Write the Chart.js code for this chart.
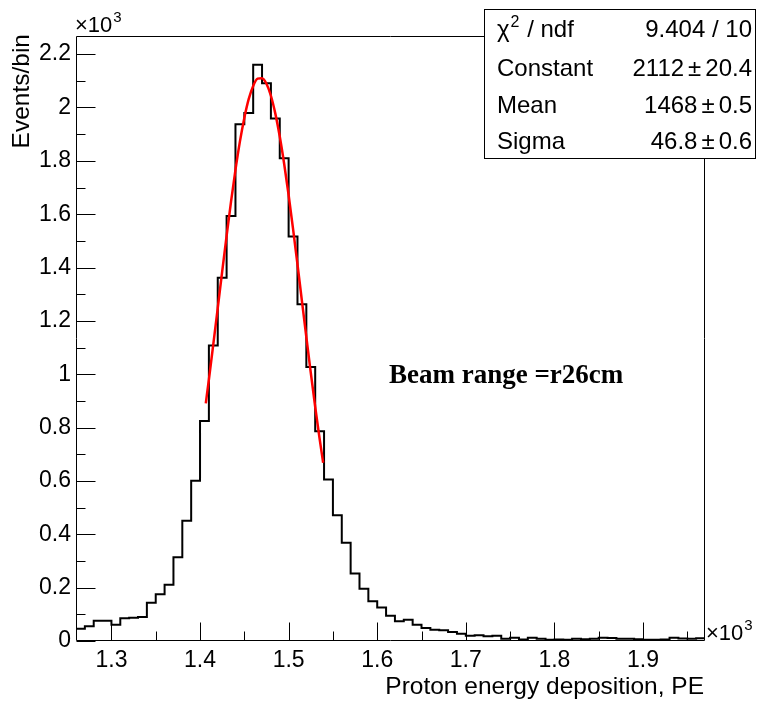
<!DOCTYPE html>
<html><head><meta charset="utf-8">
<script src="https://cdn.jsdelivr.net/npm/chart.js@4/dist/chart.umd.min.js"></script>
<style>html,body{margin:0;padding:0;background:#fff;}canvas{display:block;}</style>
</head><body>
<canvas id="c" width="757" height="703"></canvas>
<script>
// ---- data ----
const binEdges = [1260,1270,1280,1290,1300,1310,1320,1330,1340,1350,1360,1370,1380,1390,1400,1410,1420,1430,1440,1450,
  1460,1470,1480,1490,1500,1510,1520,1530,1540,1550,1560,1570,1580,1590,1600,1610,1620,1630,1640,1650,
  1660,1670,1680,1690,1700,1710,1720,1730,1740,1750,1760,1770,1780,1790,1800,1810,1820,1830,1840,1850,
  1860,1870,1880,1890,1900,1910,1920,1930,1940,1950,1960,1970];
const binCounts = [46,55,76,76,61,85,87,90,143,175,211,314,451,601,825,1108,1362,1593,1937,1979,
  2160,2091,1959,1810,1516,1262,1027,786,605,471,368,253,196,149,126,95,74,80,61,49,
  42,40,34,27,20,22,18,20,8,12,6,12,8,5,6,5,8,7,8,12,
  11,8,8,7,5,5,6,12,9,8,10];
const fitX = [1406.5,1410,1415,1420,1425,1430,1435,1440,1445,1450,1455,1460,1465,1470,1475,1480,1485,1490,1495,1500,1505,1510,1515,1520,1525,1530,1535,1539];
const fitY = [891,980,1113,1248,1385,1519,1647,1766,1872,1961,2032,2081,2108,2110,2089,2044,1977,1891,1788,1672,1545,1412,1275,1139,1006,878,758,668];
const xTicks = [1300,1400,1500,1600,1700,1800,1900];
const xMinorTicks = [1350,1450,1550,1650,1750,1850,1950];
const yTicks = [0,200,400,600,800,1000,1200,1400,1600,1800,2000,2200];
const yMinorTicks = [100,300,500,700,900,1100,1300,1500,1700,1900,2100];
const statLabels = ['Constant','Mean','Sigma'];
const chiValue = '9.404 / 10';
const statValues = [['2112','20.4'],['1468','0.5'],['46.8','0.6']];
const xTitle = 'Proton energy deposition, PE';
const yTitle = 'Events/bin';
const noteText = 'Beam range =r26cm';

const SANS = '"Liberation Sans", Arial, Helvetica, sans-serif';
const SERIF = '"Liberation Serif", "Times New Roman", serif';

const histPoints = binCounts.map((v,i)=>({x:binEdges[i], y:v}));
histPoints.push({x:binEdges[binEdges.length-1], y:binCounts[binCounts.length-1]});
const fitPoints = fitX.map((x,i)=>({x:x, y:fitY[i]}));

const decor = {
  id:'decor',
  afterDraw(chart){
    const ctx = chart.ctx, a = chart.chartArea;
    const xs = chart.scales.x, ys = chart.scales.y;
    ctx.save();
    ctx.strokeStyle = '#000';
    ctx.lineWidth = 1;
    const L = Math.round(a.left)+0.5, R = Math.round(a.right)-0.5, T = Math.round(a.top)+0.5, B = Math.round(a.bottom)-0.5;
    ctx.beginPath();
    ctx.rect(L, T, R-L, B-T);
    ctx.stroke();
    ctx.beginPath();
    xTicks.forEach(v=>{const p=Math.round(xs.getPixelForValue(v))+0.5; ctx.moveTo(p,B); ctx.lineTo(p,B-18);});
    xMinorTicks.forEach(v=>{const p=Math.round(xs.getPixelForValue(v))+0.5; ctx.moveTo(p,B); ctx.lineTo(p,B-9);});
    yTicks.forEach(v=>{const p=Math.round(ys.getPixelForValue(v))+0.5; ctx.moveTo(L,p); ctx.lineTo(L+19,p);});
    yMinorTicks.forEach(v=>{const p=Math.round(ys.getPixelForValue(v))+0.5; ctx.moveTo(L,p); ctx.lineTo(L+9,p);});
    ctx.stroke();

    ctx.fillStyle = '#000';
    ctx.textBaseline = 'alphabetic';
    ctx.textAlign = 'left';
    ctx.font = '22px '+SANS;
    ctx.fillText('\u00D710', 75, 32);
    let w = ctx.measureText('\u00D710').width;
    ctx.font = '15px '+SANS;
    ctx.fillText('3', 75+w+1, 22);
    ctx.font = '22px '+SANS;
    ctx.fillText('\u00D710', 706, 640);
    w = ctx.measureText('\u00D710').width;
    ctx.font = '15px '+SANS;
    ctx.fillText('3', 706+w+1, 630);

    ctx.font = '24.5px '+SANS;
    ctx.textAlign = 'right';
    ctx.fillText(xTitle, 704, 694);
    ctx.save();
    ctx.translate(28.5, 34);
    ctx.rotate(-Math.PI/2);
    ctx.textAlign = 'right';
    ctx.fillText(yTitle, 0, 0);
    ctx.restore();

    ctx.font = 'bold 27px '+SERIF;
    ctx.textAlign = 'left';
    ctx.fillText(noteText, 389, 383);

    // stats box
    ctx.fillStyle = '#fff';
    ctx.fillRect(484.5, 9.5, 271, 149);
    ctx.strokeRect(484.5, 9.5, 271, 149);
    ctx.fillStyle = '#000';
    ctx.font = '24px '+SANS;
    ctx.textAlign = 'left';
    ctx.fillText('\u03C7', 497, 37);
    let cw = ctx.measureText('\u03C7').width;
    ctx.font = '16px '+SANS;
    ctx.fillText('2', 497+cw+1, 27);
    let sw = ctx.measureText('2').width;
    ctx.font = '24px '+SANS;
    ctx.fillText(' / ndf', 497+cw+1+sw+1, 37);
    const rows = [75.5, 113, 148.5];
    statLabels.forEach((t,i)=>ctx.fillText(t, 497, rows[i]));
    ctx.textAlign = 'right';
    ctx.fillText(chiValue, 752, 37);
    const gap = 4;
    statValues.forEach((pair,i)=>{
      let x = 752;
      ctx.fillText(pair[1], x, rows[i]);
      x -= ctx.measureText(pair[1]).width + gap;
      ctx.fillText('\u00B1', x, rows[i]);
      x -= ctx.measureText('\u00B1').width + gap;
      ctx.fillText(pair[0], x, rows[i]);
    });
    ctx.restore();
  }
};

new Chart(document.getElementById('c'), {
  type:'line',
  data:{datasets:[
    {data:fitPoints, borderColor:'#ff0000', borderWidth:2.5, pointRadius:0, cubicInterpolationMode:'monotone', fill:false, order:0},
    {data:histPoints, borderColor:'#000', borderWidth:2, pointRadius:0, stepped:'before', fill:false, order:1}
  ]},
  options:{
    responsive:false, animation:false, devicePixelRatio:1,
    layout:{padding:{left:0,right:52,top:36,bottom:0}},
    plugins:{legend:{display:false}, tooltip:{enabled:false}},
    scales:{
      x:{type:'linear', min:1260, max:1970,
        grid:{display:false, drawTicks:false}, border:{display:false},
        afterBuildTicks:s=>{s.ticks = xTicks.map(v=>({value:v}));},
        afterFit:s=>{s.height = 62;},
        ticks:{autoSkip:false, maxRotation:0, padding:6, color:'#000', font:{family:SANS, size:23},
          callback:v=>(v/1000).toFixed(1)}},
      y:{type:'linear', min:0, max:2268,
        grid:{display:false, drawTicks:false}, border:{display:false},
        afterBuildTicks:s=>{s.ticks = yTicks.map(v=>({value:v}));},
        afterFit:s=>{s.width = 76;},
        ticks:{autoSkip:false, padding:5, color:'#000', font:{family:SANS, size:23},
          callback:v=>String(+(v/1000).toFixed(1))}}
    }
  },
  plugins:[decor]
});
</script>
</body></html>
